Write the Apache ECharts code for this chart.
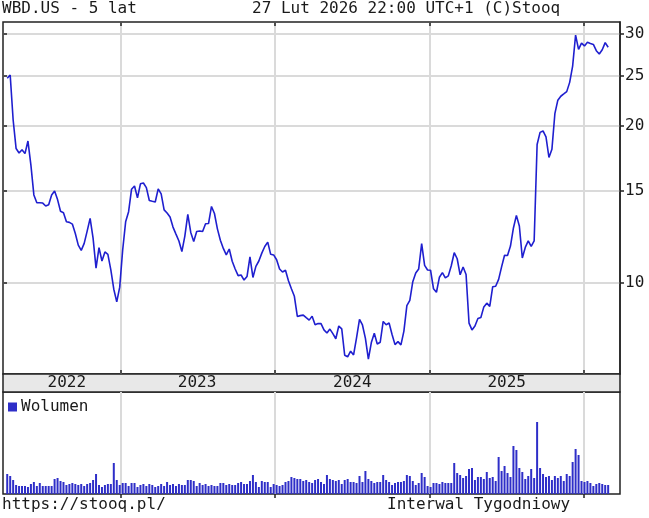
<!DOCTYPE html>
<html><head><meta charset="utf-8">
<script src="https://cdn.jsdelivr.net/npm/echarts@6/dist/echarts.min.js"></script>
<style>html,body{margin:0;padding:0;background:#fff}#c{width:649px;height:518px}</style>
</head><body><div id="c"></div>
<script>
// ---- data (weekly) ----
const firstWeek = '2022-04-08';
const price = [24.68,25.04,20.53,18.10,17.75,18.01,17.70,18.71,16.83,14.75,
14.25,14.25,14.23,14.05,14.13,14.75,15.01,14.45,13.73,13.64,
13.10,13.07,12.97,12.44,11.82,11.55,11.91,12.57,13.30,12.19,
10.68,11.69,11.02,11.47,11.35,10.60,9.73,9.20,9.82,11.57,
13.10,13.70,15.13,15.34,14.56,15.49,15.55,15.23,14.39,14.34,
14.30,15.15,14.82,13.81,13.62,13.38,12.80,12.41,12.04,11.49,
12.30,13.54,12.50,12.01,12.55,12.58,12.55,12.99,13.00,14.02,
13.59,12.70,12.08,11.65,11.32,11.62,11.01,10.64,10.33,10.36,
10.13,10.29,11.22,10.25,10.76,11.02,11.41,11.75,11.98,11.35,
11.32,11.08,10.64,10.50,10.58,10.10,9.75,9.43,8.63,8.66,
8.68,8.58,8.49,8.64,8.32,8.36,8.36,8.13,8.02,8.16,
8.00,7.82,8.27,8.17,7.27,7.22,7.40,7.28,7.85,8.52,
8.31,7.83,7.15,7.69,8.01,7.64,7.70,8.44,8.32,8.38,
7.97,7.62,7.72,7.61,8.09,9.05,9.26,10.06,10.45,10.64,
11.90,10.81,10.59,10.58,9.75,9.60,10.26,10.47,10.23,10.32,
10.79,11.43,11.13,10.37,10.73,10.38,8.38,8.13,8.27,8.55,
8.59,9.00,9.15,9.02,9.84,9.86,10.16,10.74,11.30,11.29,
11.77,12.75,13.48,12.86,11.17,11.70,12.04,11.75,12.04,18.43,
19.44,19.56,19.06,17.40,18.04,21.11,22.41,22.80,23.03,23.27,
24.24,26.05,29.87,28.04,28.83,28.47,28.93,28.77,28.66,27.88,
27.47,27.99,28.88,28.30];
const volume = [240,216,168,108,96,96,96,84,120,144,
96,132,96,96,96,96,180,192,156,144,
108,120,132,120,108,120,96,120,132,168,
240,108,84,108,120,120,372,168,108,132,
132,96,132,132,84,108,120,96,120,108,
84,96,120,96,144,108,120,96,120,108,
108,168,168,156,96,132,108,120,96,108,
96,96,132,132,108,120,108,108,132,144,
120,120,156,228,144,84,156,144,144,84,
120,108,96,108,144,156,204,192,180,180,
156,168,144,132,168,180,144,120,228,180,
168,156,168,120,168,180,144,144,132,216,
144,276,180,156,132,144,144,228,168,144,
108,132,144,144,156,228,216,156,108,132,
252,204,96,84,132,132,120,144,132,132,
132,372,252,228,192,216,300,312,168,204,
204,180,264,192,204,156,444,276,336,252,
204,576,528,312,264,180,216,300,192,864,
312,240,204,216,168,216,192,216,156,240,
216,384,540,468,156,144,156,132,96,120,
132,120,108,108];
const priceTicks = [10, 15, 20, 25, 30];
const yearStarts = ['2023-01-01', '2024-01-01', '2025-01-01', '2026-01-01'];
const yearLabelDates = ['2022-08-27', '2023-07-01', '2024-07-02', '2025-07-02'];
const axisStart = '2022-03-29', axisEnd = '2026-03-27';
const priceMin = 6.693, priceMax = 31.64;
const volumeMax = 1224;

// ---- build ----
const t = s => Date.parse(s + 'T00:00:00Z');
const week = 7 * 86400000;
const t0 = t(firstWeek);
const priceData = price.map((v, i) => [t0 + i * week, v]);
const volData = volume.map((v, i) => [t0 + i * week, v]);
const yearTicks = yearStarts.map(t);
const yearLabelTicks = yearLabelDates.map(t);

const FONT = 'DejaVu Sans Mono';
const INK = '#1a1a1a';
const GRIDC = '#dadada';
const LINEC = '#1f1fcf';

const L = 3, R = 29;
const chart = echarts.init(document.getElementById('c'), null, {renderer: 'canvas'});
const xBase = {
  type: 'value', min: t(axisStart), max: t(axisEnd),
  axisLine: {show: false},
  axisLabel: {show: false},
  splitLine: {show: false}
};
chart.setOption({
  animation: false,
  backgroundColor: '#fff',
  title: [
    {text: 'WBD.US - 5 lat', left: 2, top: 1, padding: 0, textStyle: {fontFamily: FONT, fontSize: 16, fontWeight: 'normal', color: INK}},
    {text: '27 Lut 2026 22:00 UTC+1 (C)Stooq', left: 252, top: 1, padding: 0, textStyle: {fontFamily: FONT, fontSize: 16, fontWeight: 'normal', color: INK}},
    {text: 'https://stooq.pl/', left: 2, top: 497, padding: 0, textStyle: {fontFamily: FONT, fontSize: 16, fontWeight: 'normal', color: INK}},
    {text: 'Interwal Tygodniowy', left: 387, top: 497, padding: 0, textStyle: {fontFamily: FONT, fontSize: 16, fontWeight: 'normal', color: INK}}
  ],
  legend: {
    data: ['Wolumen'], left: 8, top: 399, padding: 0, icon: 'rect', itemWidth: 9, itemHeight: 9, itemGap: 4,
    textStyle: {fontFamily: FONT, fontSize: 16, color: INK, padding: [0, 0, 0, -1]}
  },
  grid: [
    {left: L, right: R, top: 22, height: 352, show: true, borderColor: '#222', borderWidth: 1.5, backgroundColor: 'transparent'},
    {left: L, right: R, top: 392, height: 102, show: true, borderColor: '#222', borderWidth: 1.5, backgroundColor: 'transparent'},
    {left: L, right: R, top: 374, height: 18, show: true, borderColor: '#222', borderWidth: 1.5, backgroundColor: '#e8e8e8'}
  ],
  xAxis: [
    Object.assign({}, xBase, {gridIndex: 0, position: 'bottom',
      axisTick: {show: true, inside: true, length: 4, customValues: yearTicks, lineStyle: {color: '#222', width: 1.5}},
      splitLine: {show: true, lineStyle: {color: GRIDC, width: 2}}}),
    Object.assign({}, xBase, {gridIndex: 0, position: 'top',
      axisTick: {show: true, inside: true, length: 4, customValues: yearTicks, lineStyle: {color: '#222', width: 1.5}}}),
    Object.assign({}, xBase, {gridIndex: 1, position: 'top',
      axisTick: {show: true, inside: true, length: 4, customValues: yearTicks, lineStyle: {color: '#222', width: 1.5}},
      splitLine: {show: true, lineStyle: {color: GRIDC, width: 2}}}),
    Object.assign({}, xBase, {gridIndex: 2, position: 'bottom',
      axisTick: {show: false},
      axisLabel: {show: true, inside: true, margin: 9, verticalAlign: 'middle', customValues: yearLabelTicks,
        formatter: v => String(new Date(v).getUTCFullYear()),
        fontFamily: FONT, fontSize: 16, color: INK}})
  ],
  yAxis: [
    {type: 'log', gridIndex: 0, position: 'right', min: priceMin, max: priceMax,
      axisLine: {show: true, lineStyle: {color: '#222', width: 1.5}},
      axisTick: {show: true, length: 4, customValues: priceTicks, lineStyle: {color: '#222', width: 1.5}},
      axisLabel: {show: true, customValues: priceTicks, margin: 5, fontFamily: FONT, fontSize: 16, color: INK},
      splitLine: {show: true, lineStyle: {color: GRIDC, width: 2}}},
    {type: 'log', gridIndex: 0, position: 'left', min: priceMin, max: priceMax,
      axisLine: {show: false},
      axisTick: {show: true, inside: true, length: 4, customValues: priceTicks, lineStyle: {color: '#222', width: 1.5}},
      axisLabel: {show: false}, splitLine: {show: false}},
    {type: 'value', gridIndex: 1, min: 0, max: volumeMax, show: false},
    {type: 'value', gridIndex: 2, min: 0, max: 1, show: false}
  ],
  series: [
    {name: 'WBD.US', type: 'line', xAxisIndex: 0, yAxisIndex: 0, data: priceData, showSymbol: false,
      lineStyle: {color: LINEC, width: 1.6}, itemStyle: {color: LINEC}, z: 5},
    {name: 'Wolumen', type: 'bar', xAxisIndex: 2, yAxisIndex: 2, data: volData, barWidth: 2,
      itemStyle: {color: '#2e2ec8'}}
  ]
});
</script>
</body></html>
